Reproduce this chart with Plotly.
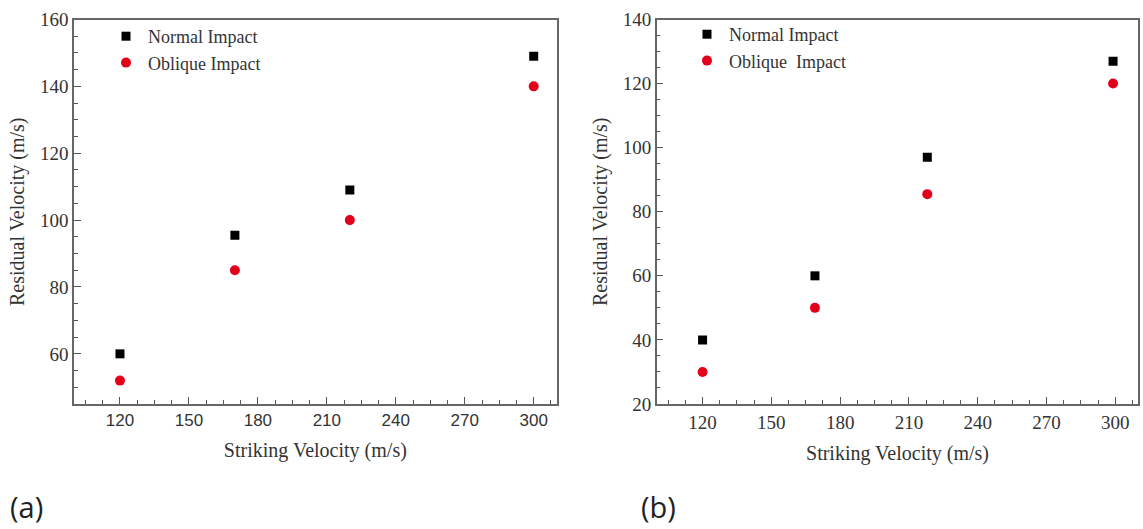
import plotly.graph_objects as go

# Panel (a)
a_x_normal = [120, 170, 220, 300]
a_y_normal = [60, 95.5, 109, 149]
a_x_oblique = [120, 170, 220, 300]
a_y_oblique = [52, 85, 100, 140]

# Panel (b)
b_x_normal = [120, 169, 218, 299]
b_y_normal = [40, 60, 97, 127]
b_x_oblique = [120, 169, 218, 299]
b_y_oblique = [30, 50, 85.5, 120]

name_normal_a = "Normal Impact"
name_oblique_a = "Oblique Impact"
name_normal_b = "Normal Impact"
name_oblique_b = "Oblique  Impact"

x_title = "Striking Velocity (m/s)"
y_title = "Residual Velocity (m/s)"

SERIF = "Liberation Serif, Times New Roman, serif"
SANS = "Liberation Sans, Arial, sans-serif"
TXT = "#333333"
LINE = "#666666"
TICK = "#555555"

fig = go.Figure()
fig.add_trace(go.Scatter(x=a_x_normal, y=a_y_normal, mode="markers", name=name_normal_a,
                         marker=dict(symbol="square", size=9, color="black"),
                         xaxis="x", yaxis="y", legend="legend"))
fig.add_trace(go.Scatter(x=a_x_oblique, y=a_y_oblique, mode="markers", name=name_oblique_a,
                         marker=dict(symbol="circle", size=10, color="#e3001b"),
                         xaxis="x", yaxis="y", legend="legend"))
fig.add_trace(go.Scatter(x=b_x_normal, y=b_y_normal, mode="markers", name=name_normal_b,
                         marker=dict(symbol="square", size=9, color="black"),
                         xaxis="x2", yaxis="y2", legend="legend2"))
fig.add_trace(go.Scatter(x=b_x_oblique, y=b_y_oblique, mode="markers", name=name_oblique_b,
                         marker=dict(symbol="circle", size=10, color="#e3001b"),
                         xaxis="x2", yaxis="y2", legend="legend2"))

W, H = 1143, 529
ydom = [1 - 404 / H, 1 - 19.5 / H]

def xaxis_cfg(dom, anchor, tickfont):
    return dict(domain=dom, anchor=anchor, range=[100, 310], dtick=30, tick0=0,
                ticks="inside", ticklen=7, tickwidth=1.2, tickcolor=TICK,
                minor=dict(ticks="inside", dtick=7.5, tick0=0, ticklen=4, tickwidth=1, tickcolor=TICK),
                showline=True, linecolor=LINE, linewidth=1.5, mirror=True,
                showgrid=False, zeroline=False, tickfont=tickfont, automargin=False,
                title=dict(text=x_title, font=dict(family=SERIF, size=20, color=TXT), standoff=14))

def yaxis_cfg(rng, anchor):
    return dict(domain=ydom, anchor=anchor, range=rng, dtick=20, tick0=0,
                ticks="inside", ticklen=7, tickwidth=1.2, tickcolor=TICK,
                minor=dict(ticks="inside", dtick=5, tick0=0, ticklen=4, tickwidth=1, tickcolor=TICK),
                showline=True, linecolor=LINE, linewidth=1.5, mirror=True,
                showgrid=False, zeroline=False, automargin=False,
                tickfont=dict(family=SERIF, size=19, color=TXT),
                title=dict(text=y_title, font=dict(family=SERIF, size=20, color=TXT), standoff=10))

fig.update_layout(
    width=W, height=H,
    margin=dict(l=0, r=0, t=0, b=0, autoexpand=False),
    paper_bgcolor="white", plot_bgcolor="white",
    xaxis=xaxis_cfg([74 / W, 556.7 / W], "y", dict(family=SANS, size=17, color=TXT)),
    yaxis=yaxis_cfg([45, 160], "x"),
    xaxis2=xaxis_cfg([656.7 / W, 1138.3 / W], "y2", dict(family=SERIF, size=19, color=TXT)),
    yaxis2=yaxis_cfg([20, 140], "x2"),
    legend=dict(x=104 / W, y=1 - 18 / H, xanchor="left", yanchor="top",
                bgcolor="rgba(0,0,0,0)", font=dict(family=SERIF, size=18, color=TXT),
                tracegroupgap=0, itemwidth=34),
    legend2=dict(x=685 / W, y=1 - 16 / H, xanchor="left", yanchor="top",
                 bgcolor="rgba(0,0,0,0)", font=dict(family=SERIF, size=18, color=TXT),
                 tracegroupgap=0, itemwidth=34),
    annotations=[
        dict(text="(a)", x=8 / W, y=1 - 506 / H, xref="paper", yref="paper",
             xanchor="left", yanchor="middle", showarrow=False,
             font=dict(family="Open Sans, sans-serif", size=29, color="#222222")),
        dict(text="(b)", x=639 / W, y=1 - 506 / H, xref="paper", yref="paper",
             xanchor="left", yanchor="middle", showarrow=False,
             font=dict(family="Open Sans, sans-serif", size=29, color="#222222")),
    ],
)

fig.write_html("out.html", config={"displayModeBar": False},
               post_script="document.body.style.margin='0';document.body.style.overflow='hidden';")
